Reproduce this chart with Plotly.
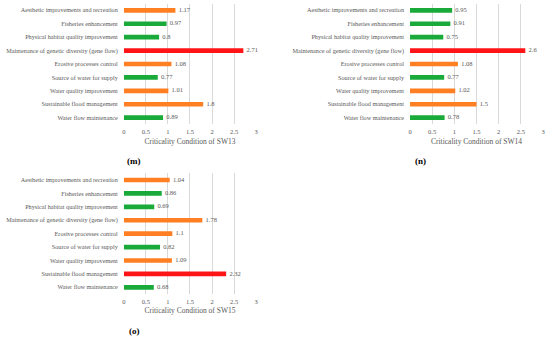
import plotly.graph_objects as go

categories = [
    "Water flow maintenance",
    "Sustainable flood management",
    "Water quality improvement",
    "Source of water for supply",
    "Erosive processes control",
    "Maintenance of genetic diversity (gene flow)",
    "Physical habitat quality improvement",
    "Fisheries enhancement",
    "Aesthetic improvements and recreation",
]
sw13 = [0.89, 1.8, 1.01, 0.77, 1.08, 2.71, 0.8, 0.97, 1.17]
sw14 = [0.78, 1.5, 1.02, 0.77, 1.08, 2.6, 0.75, 0.91, 0.95]
sw15 = [0.68, 2.32, 1.09, 0.82, 1.1, 1.78, 0.69, 0.86, 1.04]
panels = [("SW13", "(m)", sw13), ("SW14", "(n)", sw14), ("SW15", "(o)", sw15)]
xticks = [0, 0.5, 1, 1.5, 2, 2.5, 3]

GREEN = "#19AA3A"
ORANGE = "#FF7F22"
RED = "#FF1418"


def colour(v):
    if v < 1:
        return GREEN
    if v < 2:
        return ORANGE
    return RED


W, H = 550, 338
# panel boxes in pixels: (left, right, top, bottom)
boxes = [(122.7, 256.0, 3.6, 124.4), (411.0, 545.0, 3.6, 124.4), (122.7, 256.0, 173.3, 294.0)]
FONT = "Liberation Serif"
GRAY = "#595959"

fig = go.Figure()
annotations = []
for i, ((sw, tag, vals), (l, r, t, b)) in enumerate(zip(panels, boxes)):
    n = "" if i == 0 else str(i + 1)
    fig.add_trace(go.Bar(
        x=vals, y=categories, orientation="h",
        marker=dict(color=[colour(v) for v in vals], line=dict(width=0)),
        width=0.35, hoverinfo="x+y",
        xaxis="x" + n, yaxis="y" + n, showlegend=False,
    ))
    fig.add_trace(go.Scatter(
        x=vals, y=categories, mode="text",
        text=["  " + f"{v:g}" for v in vals], textposition="middle right",
        textfont=dict(family=FONT, size=6.5, color=GRAY),
        cliponaxis=False, hoverinfo="skip",
        xaxis="x" + n, yaxis="y" + n, showlegend=False,
    ))
    fig.layout["xaxis" + n] = dict(
        domain=[l / W, r / W], anchor="y" + n, range=[0, 3],
        tickvals=xticks, ticktext=[f"{v:g}" for v in xticks],
        showgrid=True, gridcolor="#D9D9D9", gridwidth=1,
        zeroline=False, showline=False,
        tickfont=dict(family=FONT, size=6.5, color=GRAY),
        ticklabelstandoff=2,
        title=dict(text=f"Criticality Condition of {sw}",
                   font=dict(family=FONT, size=7.5, color=GRAY), standoff=4),
    )
    fig.layout["yaxis" + n] = dict(
        domain=[1 - b / H, 1 - t / H], anchor="x" + n,
        range=[-0.5, len(categories) - 0.5],
        showgrid=False, zeroline=False, showline=False,
        tickfont=dict(family=FONT, size=6.2, color=GRAY),
        ticklabelstandoff=5,
    )
    annotations.append(dict(
        text=f"<b>{tag}</b>", x=(l + 10.5) / W, y=1 - (b + 36.5) / H,
        xref="paper", yref="paper", xanchor="center", yanchor="middle",
        showarrow=False,
        font=dict(family=FONT, size=9, color="#000000"),
    ))

fig.update_layout(
    width=W, height=H, margin=dict(l=0, r=0, t=0, b=0),
    paper_bgcolor="white", plot_bgcolor="white",
    annotations=annotations,
)
fig.write_html(
    "out.html",
    config={"displayModeBar": False},
    post_script="document.body.style.margin='0';document.body.style.padding='0';",
)
